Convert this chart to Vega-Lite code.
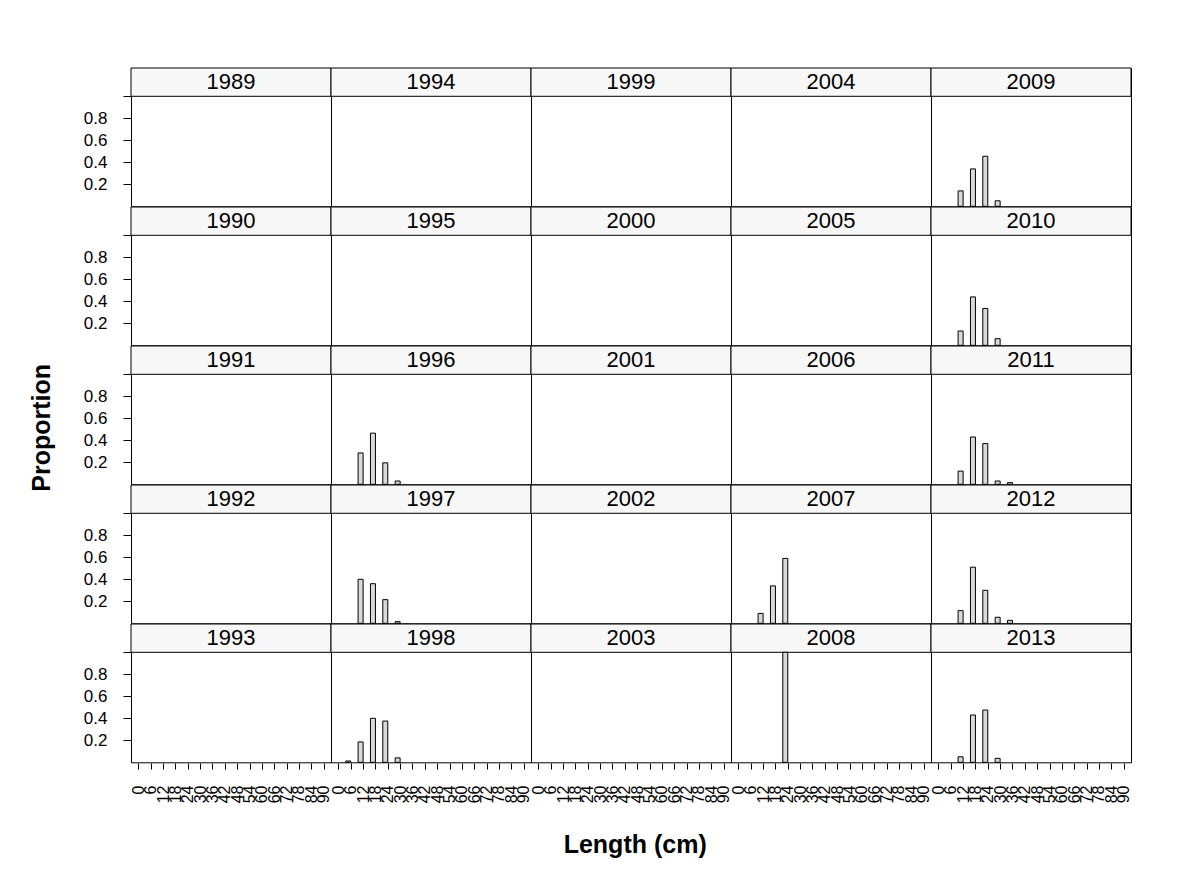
{
  "$schema": "https://vega.github.io/schema/vega-lite/v6.json",
  "background": "white",
  "padding": {"left": 30, "top": 66, "right": 5, "bottom": 5},
  "autosize": {"type": "pad"},
  "title": {"text": "Length (cm)", "orient": "bottom", "fontSize": 25, "fontWeight": "bold", "font": "Liberation Sans", "color": "black", "offset": 30, "anchor": "middle", "dx": 54},
  "config": {
    "view": {"stroke": "black", "strokeWidth": 1},
    "facet": {"spacing": 0},
    "concat": {"spacing": 0},
    "header": {"labelExpr": "''", "labelFontSize": 0.1, "labelPadding": 0, "titlePadding": 0, "labelLimit": 1}
  },
  "vconcat": [
    {
      "title": {"text": "Proportion", "orient": "left", "fontSize": 25, "fontWeight": "bold", "font": "Liberation Sans", "color": "black", "offset": 28, "anchor": "middle", "dx": 7},
      "data": {"values": [
        {"year": 1989}, {"year": 1990}, {"year": 1991}, {"year": 1992}, {"year": 1993},
        {"year": 1994}, {"year": 1995},
        {"year": 1996, "length": 12, "proportion": 0.285},
        {"year": 1996, "length": 18, "proportion": 0.465},
        {"year": 1996, "length": 24, "proportion": 0.195},
        {"year": 1996, "length": 30, "proportion": 0.03},
        {"year": 1997, "length": 12, "proportion": 0.40},
        {"year": 1997, "length": 18, "proportion": 0.36},
        {"year": 1997, "length": 24, "proportion": 0.215},
        {"year": 1997, "length": 30, "proportion": 0.015},
        {"year": 1998, "length": 6, "proportion": 0.012},
        {"year": 1998, "length": 12, "proportion": 0.185},
        {"year": 1998, "length": 18, "proportion": 0.40},
        {"year": 1998, "length": 24, "proportion": 0.375},
        {"year": 1998, "length": 30, "proportion": 0.04},
        {"year": 1999}, {"year": 2000}, {"year": 2001}, {"year": 2002}, {"year": 2003},
        {"year": 2004}, {"year": 2005}, {"year": 2006},
        {"year": 2007, "length": 12, "proportion": 0.09},
        {"year": 2007, "length": 18, "proportion": 0.34},
        {"year": 2007, "length": 24, "proportion": 0.59},
        {"year": 2008, "length": 24, "proportion": 1.0},
        {"year": 2009, "length": 12, "proportion": 0.14},
        {"year": 2009, "length": 18, "proportion": 0.34},
        {"year": 2009, "length": 24, "proportion": 0.455},
        {"year": 2009, "length": 30, "proportion": 0.05},
        {"year": 2010, "length": 12, "proportion": 0.13},
        {"year": 2010, "length": 18, "proportion": 0.44},
        {"year": 2010, "length": 24, "proportion": 0.335},
        {"year": 2010, "length": 30, "proportion": 0.06},
        {"year": 2011, "length": 12, "proportion": 0.12},
        {"year": 2011, "length": 18, "proportion": 0.43},
        {"year": 2011, "length": 24, "proportion": 0.37},
        {"year": 2011, "length": 30, "proportion": 0.03},
        {"year": 2011, "length": 36, "proportion": 0.015},
        {"year": 2012, "length": 12, "proportion": 0.115},
        {"year": 2012, "length": 18, "proportion": 0.51},
        {"year": 2012, "length": 24, "proportion": 0.30},
        {"year": 2012, "length": 30, "proportion": 0.055},
        {"year": 2012, "length": 36, "proportion": 0.027},
        {"year": 2013, "length": 12, "proportion": 0.05},
        {"year": 2013, "length": 18, "proportion": 0.43},
        {"year": 2013, "length": 24, "proportion": 0.475},
        {"year": 2013, "length": 30, "proportion": 0.036}
      ]},
      "facet": {
        "field": "year", "type": "ordinal",
        "sort": [1989, 1994, 1999, 2004, 2009, 1990, 1995, 2000, 2005, 2010, 1991, 1996, 2001, 2006, 2011, 1992, 1997, 2002, 2007, 2012, 1993, 1998, 2003, 2008, 2013],
        "header": {"labelExpr": "''", "labelFontSize": 0.1, "labelPadding": 0, "title": null, "labelLimit": 1}
      },
      "columns": 5,
      "spacing": 0,
      "bounds": "flush",
      "spec": {
        "width": 200,
        "height": 138.3,
        "layer": [
          {
            "transform": [{"aggregate": [{"op": "count", "as": "n"}], "groupby": ["year"]}],
            "mark": {"type": "rect", "fill": "#f7f7f7", "stroke": "black", "strokeWidth": 1},
            "encoding": {
              "x": {"datum": -3.6, "type": "quantitative"},
              "x2": {"datum": 93.6},
              "y": {"datum": 1.0, "type": "quantitative"},
              "y2": {"datum": 1.2573}
            }
          },
          {
            "transform": [{"aggregate": [{"op": "count", "as": "n"}], "groupby": ["year"]}],
            "mark": {"type": "text", "fontSize": 22, "font": "Liberation Sans", "color": "black", "baseline": "middle", "align": "center"},
            "encoding": {
              "x": {"datum": 45, "type": "quantitative"},
              "y": {"datum": 1.1286, "type": "quantitative"},
              "text": {"field": "year", "type": "nominal"}
            }
          },
          {
            "mark": {"type": "bar", "width": 5, "xOffset": -2.5, "fill": "#d9d9d9", "stroke": "black", "strokeWidth": 1},
            "encoding": {
              "x": {
                "field": "length", "type": "quantitative",
                "scale": {"domain": [-3.6, 93.6], "nice": false, "zero": false, "padding": 0},
                "axis": {"title": null, "values": [0, 6, 12, 18, 24, 30, 36, 42, 48, 54, 60, 66, 72, 78, 84, 90], "tickCount": 100, "labelAngle": 270, "tickSize": 6, "labelPadding": 16, "labelFontSize": 16, "labelFont": "Liberation Sans", "labelColor": "black", "tickColor": "black", "domain": false, "grid": false, "labelOverlap": false, "labelFlush": false, "labelBound": false}
              },
              "y": {
                "field": "proportion", "type": "quantitative",
                "scale": {"domain": [0, 1.2573], "nice": false, "zero": false, "padding": 0},
                "axis": {"title": null, "values": [0.2, 0.4, 0.6, 0.8, 1.0], "tickCount": 100, "labelExpr": "datum.value > 0.9 ? '' : format(datum.value, '.1f')", "tickSize": 8, "labelPadding": 16, "labelFontSize": 17, "labelFont": "Liberation Sans", "labelColor": "black", "tickColor": "black", "domain": false, "grid": false, "labelOverlap": false, "labelFlush": false}
              }
            }
          }
        ]
      }
    }
  ]
}
